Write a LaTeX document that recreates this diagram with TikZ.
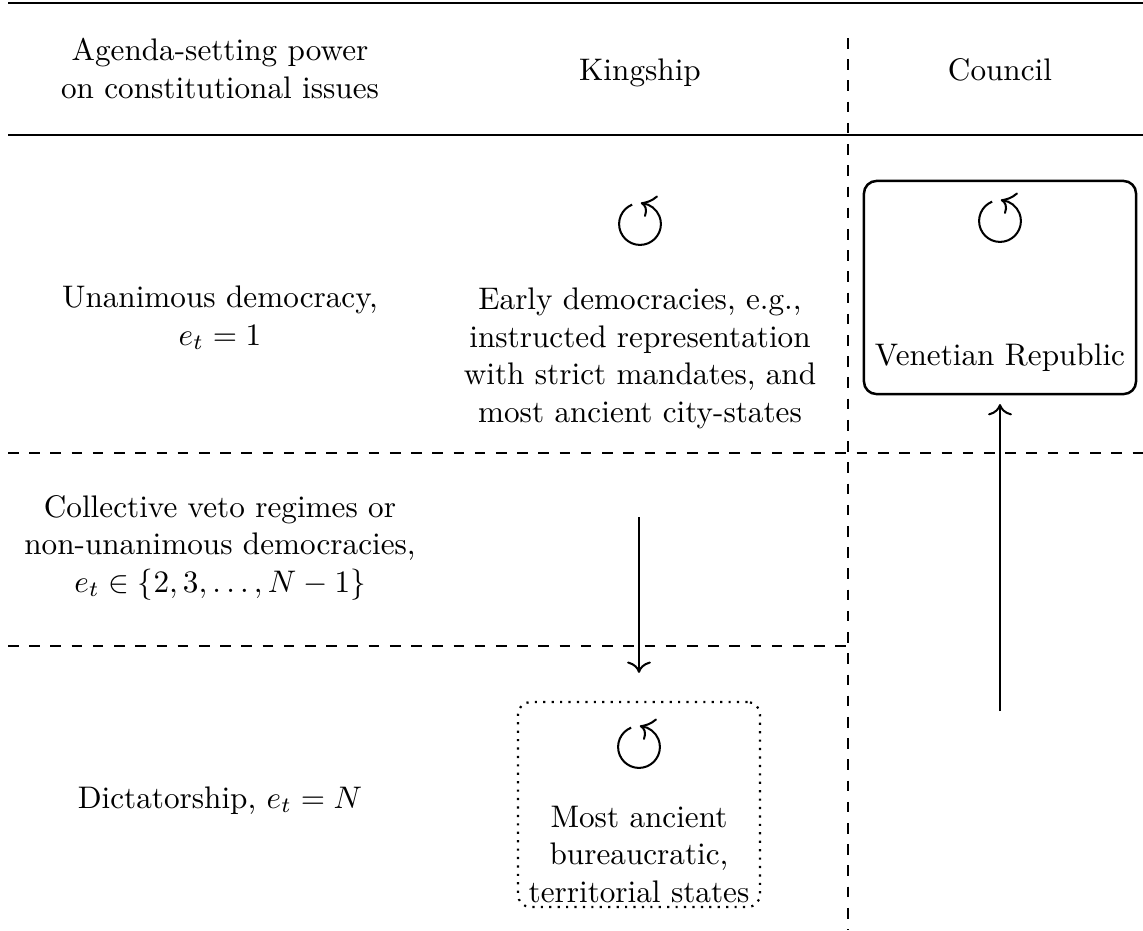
\documentclass[tikz,border=0pt]{standalone}
\usetikzlibrary{arrows.meta,bending}
\begin{document}
\begin{tikzpicture}[x=0.3205pt, y=-0.3205pt,
  toprulestyle/.style={line width=0.9pt},
  midrulestyle/.style={line width=0.55pt},
  sepline/.style={line width=0.4pt, dash pattern=on 3.4pt off 3.4pt},
  lbl/.style={align=center, anchor=base, inner sep=0pt},
  cyc/.style={line width=0.65pt, -{To[scale=1.25, bend]}},
  mv/.style={line width=0.65pt, -{To[scale=1.2]}},
  solidbox/.style={draw, line width=0.8pt, rounded corners=4pt, minimum width=87.2pt, minimum height=68.3pt, inner sep=0pt},
  dotbox/.style={draw, line width=0.7pt, dotted, rounded corners=4pt, minimum width=77.6pt, minimum height=65.7pt, inner sep=0pt}]
\useasboundingbox (0,0) rectangle (1143,930);

% rules and separators
\draw[toprulestyle] (8,3) -- (1143,3);
\draw[midrulestyle] (8,135) -- (1143,135);
\draw[sepline] (848,38) -- (848,930);
\draw[sepline] (8,453) -- (1143,453);
\draw[sepline] (8,646) -- (848,646);

% header (anchor = baseline of last line)
\node[lbl] (h1) at (220,98) {Agenda-setting power\\on constitutional issues};
\node[lbl] (h2) at (640,80) {Kingship};
\node[lbl] (h3) at (1000,80) {Council};

% row labels
\node[lbl] (r1) at (220,345) {Unanimous democracy,\\$e_t=1$};
\node[lbl] (r2) at (220,592) {Collective veto regimes or\\non-unanimous democracies,\\$e_t\in\{2,3,\dots,N-1\}$};
\node[lbl] (r3) at (220,808) {Dictatorship, $e_t=N$};

% boxes
\node[solidbox] (vbox) at (1000,287.5) {};
\node[dotbox] (dbox) at (639,804.5) {};

% cell texts
\node[lbl] (k1) at (640,422) {Early democracies, e.g.,\\instructed representation\\with strict mandates, and\\most ancient city-states};
\node[lbl] (v1) at (1000,365) {Venetian Republic};
\node[lbl] (d1) at (639,902) {Most ancient\\bureaucratic,\\territorial states};

% cycle symbols
\coordinate (c1) at (640,224);
\coordinate (c2) at (1000,221);
\coordinate (c3) at (639,747);
\draw[cyc] (c1) ++(112:6.7pt) arc[start angle=112, end angle=448, radius=6.7pt];
\draw[cyc] (c2) ++(112:6.7pt) arc[start angle=112, end angle=448, radius=6.7pt];
\draw[cyc] (c3) ++(112:6.7pt) arc[start angle=112, end angle=448, radius=6.7pt];

% transitions
\coordinate (a1s) at (639,517);
\coordinate (a2s) at (1000,711);
\draw[mv, shorten >=9pt] (a1s) -- (dbox.north);
\draw[mv, shorten >=2.8pt] (a2s) -- (vbox.south);
\end{tikzpicture}
\end{document}
